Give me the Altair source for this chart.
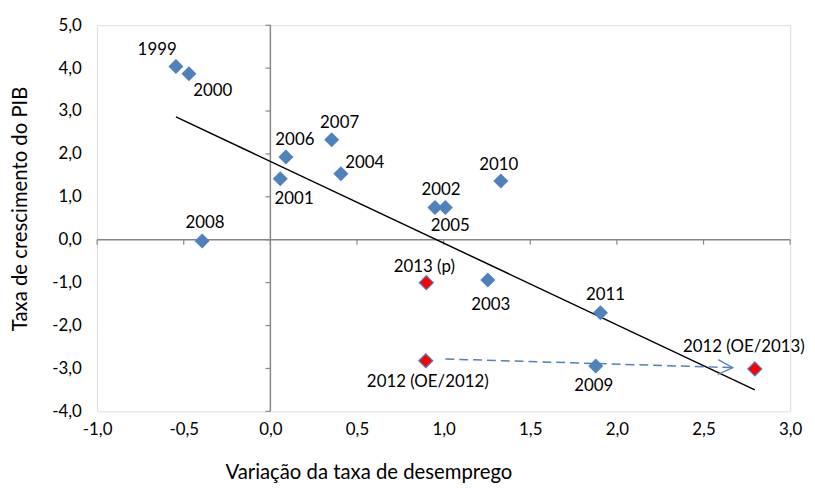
import altair as alt
import pandas as pd

# ---- data ----
labels = ["1999", "2000", "2001", "2002", "2003", "2004", "2005", "2006", "2007",
          "2008", "2009", "2010", "2011", "2012 (OE/2012)", "2012 (OE/2013)", "2013 (p)"]
desemprego = [-0.545, -0.47, 0.057, 0.95, 1.255, 0.407, 1.01, 0.09, 0.354,
              -0.394, 1.878, 1.33, 1.905, 0.897, 2.796, 0.90]
pib = [4.04, 3.87, 1.42, 0.75, -0.94, 1.54, 0.75, 1.93, 2.33,
       -0.03, -2.94, 1.37, -1.70, -2.82, -3.01, -1.00]
kind = ["obs"] * 13 + ["prev"] * 3

arrow_x = [1.01, 2.669]
arrow_y = [-2.78, -2.98]

x_ticks = [-1.0, -0.5, 0.0, 0.5, 1.0, 1.5, 2.0, 2.5, 3.0]
y_ticks = [-4.0, -3.0, -2.0, -1.0, 0.0, 1.0, 2.0, 3.0, 4.0, 5.0]

df = pd.DataFrame({"x": desemprego, "y": pib, "label": labels, "kind": kind})
arrow_df = pd.DataFrame({"x": arrow_x, "y": arrow_y})
xt_df = pd.DataFrame({"t": x_ticks})
yt_df = pd.DataFrame({"t": y_ticks})

# ---- styling ----
FONT = "Lato"
FS = 17
TFS = 20.5
BLUE = "#4F81BD"
AXIS_GRAY = "#868686"
label_offsets = {
    "1999": (-19, -17), "2000": (24, 18), "2001": (14, 20), "2002": (6, -18),
    "2003": (3, 25), "2004": (24, -11), "2005": (5, 19), "2006": (9, -17),
    "2007": (8, -17), "2008": (3, -18), "2009": (-2, 20), "2010": (-2, -16),
    "2011": (5, -18), "2012 (OE/2012)": (2, 22), "2012 (OE/2013)": (-11, -22),
    "2013 (p)": (-2, -16),
}

fmt = "replace(replace(format(datum.value, '.1f'), '.', ','), '\u2212', '-')"
xs = alt.Scale(domain=[-1, 3], nice=False, zero=False)
ys = alt.Scale(domain=[-4, 5], nice=False, zero=False)

x_axis = alt.Axis(values=x_ticks, labelExpr=fmt, domain=False, ticks=False, grid=False,
                  labelFont=FONT, labelFontSize=FS, labelColor="black", labelPadding=10,
                  labelFlush=False, labelOverlap=False,
                  title="Variação da taxa de desemprego", titleFont=FONT, titleFontSize=TFS,
                  titleFontWeight="normal", titleColor="black", titleX=274, titleY=68,
                  titleAlign="center", titleBaseline="alphabetic")
y_axis = alt.Axis(values=y_ticks, labelExpr=fmt, domain=False, ticks=False, grid=False,
                  labelFont=FONT, labelFontSize=FS, labelColor="black", labelPadding=16,
                  labelFlush=False, labelOverlap=False,
                  title="Taxa de crescimento do PIB", titleFont=FONT, titleFontSize=TFS,
                  titleFontWeight="normal", titleColor="black", titleX=-71, titleY=185,
                  titleAngle=-90, titleAlign="center", titleBaseline="alphabetic")

base = alt.Chart(df)

points_blue = base.transform_filter(alt.datum.kind == "obs").mark_point(
    shape="diamond", filled=True, size=230, color=BLUE, opacity=1
).encode(x=alt.X("x:Q", scale=xs, axis=x_axis), y=alt.Y("y:Q", scale=ys, axis=y_axis))

points_red = base.transform_filter(alt.datum.kind == "prev").mark_point(
    shape="diamond", filled=True, size=200, fill="#FF0000", stroke=BLUE, strokeWidth=1.2, opacity=1
).encode(x=alt.X("x:Q", scale=xs), y=alt.Y("y:Q", scale=ys))

trend = base.transform_regression("x", "y", method="linear").mark_line(
    color="black", strokeWidth=1.5
).encode(x=alt.X("x:Q", scale=xs), y=alt.Y("y:Q", scale=ys))

# axis lines through zero
vline = alt.Chart(pd.DataFrame({"a": [0]})).mark_rule(color=AXIS_GRAY, strokeWidth=1.5).encode(
    x=alt.datum(0, scale=xs), y=alt.datum(-4, scale=ys), y2=alt.datum(5))
hline = alt.Chart(pd.DataFrame({"a": [0]})).mark_rule(color=AXIS_GRAY, strokeWidth=1.5).encode(
    y=alt.datum(0, scale=ys), x=alt.datum(-1, scale=xs), x2=alt.datum(3))

xticks = alt.Chart(xt_df).mark_rule(color=AXIS_GRAY, strokeWidth=1.2, y2Offset=5).encode(
    x=alt.X("t:Q", scale=xs), y=alt.datum(0, scale=ys), y2=alt.datum(0))
yticks = alt.Chart(yt_df).mark_rule(color=AXIS_GRAY, strokeWidth=1.2, x2Offset=-5).encode(
    y=alt.Y("t:Q", scale=ys), x=alt.datum(0, scale=xs), x2=alt.datum(0))

arrow_line = alt.Chart(arrow_df).mark_line(
    color=BLUE, strokeWidth=1.5, strokeDash=[9, 5]
).encode(x=alt.X("x:Q", scale=xs), y=alt.Y("y:Q", scale=ys))

arrow_head = alt.Chart(arrow_df.tail(1)).mark_point(
    shape="M-1,-0.5L0,0L-1,0.5", size=900, filled=False, color=BLUE, strokeWidth=1.3,
    angle=2, opacity=1
).encode(x=alt.X("x:Q", scale=xs), y=alt.Y("y:Q", scale=ys))

text_layers = []
for lab, (dx, dy) in label_offsets.items():
    text_layers.append(
        base.transform_filter(alt.datum.label == lab).mark_text(
            font=FONT, fontSize=FS, color="black", dx=dx, dy=dy,
            align="center", baseline="middle"
        ).encode(x=alt.X("x:Q", scale=xs), y=alt.Y("y:Q", scale=ys), text="label:N")
    )

chart = alt.layer(
    vline, hline, xticks, yticks, trend, arrow_line, arrow_head,
    points_blue, points_red, *text_layers
).properties(
    width=700, height=390,
    autosize=alt.AutoSizeParams(type="none"),
    padding={"left": 90, "top": 15, "right": 17, "bottom": 75},
).configure_view(stroke=None).configure(background="white")

chart.save("out.html", embed_options={"renderer": "svg", "actions": False})
